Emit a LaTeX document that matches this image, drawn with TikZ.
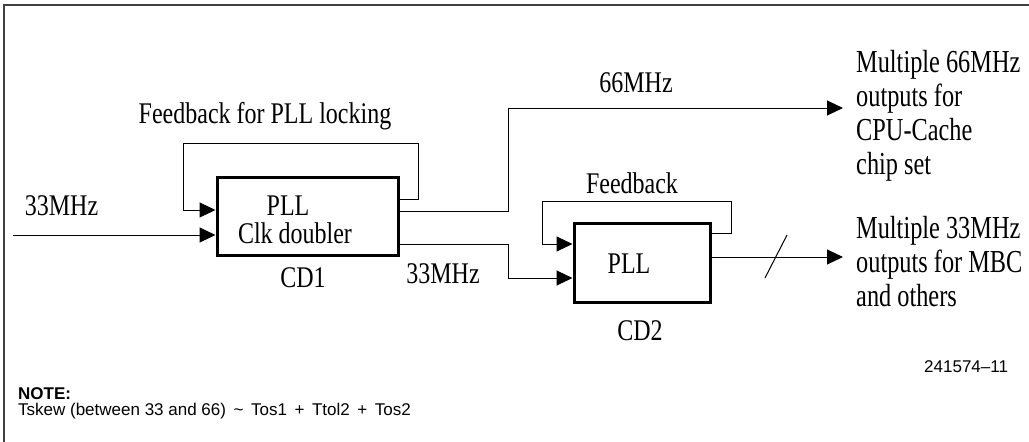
\documentclass[tikz,border=0pt]{standalone}
\usepackage{fontspec}
\setmainfont{Liberation Serif}
\newfontfamily\lblfont[FakeStretch=0.8]{Liberation Serif}
\newfontfamily\bigfont[FakeStretch=0.76]{Liberation Serif}
\newfontfamily\notefont{Liberation Sans}
\usetikzlibrary{arrows.meta}
\begin{document}
\begin{tikzpicture}[x=1pt,y=-1pt,
  block/.style={draw, line width=3pt, inner sep=0pt},
  wire/.style={line width=1pt},
  arr/.style={wire, -{Triangle[length=16pt,width=15pt]}},
  lbl/.style={font=\lblfont\fontsize{30}{34}\selectfont, inner sep=0pt},
  big/.style={font=\bigfont\fontsize{32}{34}\selectfont, inner sep=0pt, align=left},
  note/.style={font=\notefont\fontsize{17}{20}\selectfont, inner sep=0pt},
  frame/.style={line width=2pt, black!75}]
\useasboundingbox (0,0) rectangle (1029,442);
\draw[frame] (3.5,442) -- (3.5,5) -- (1029,5);

% blocks
\node[block, minimum width=181pt, minimum height=78pt] (cd1) at (307.5,216) {};
\node[block, minimum width=136pt, minimum height=79pt] (cd2) at (642,262.5) {};

% labels
\node[lbl, anchor=base] (pll1) at (288,215) {PLL};
\node[lbl, anchor=base] (clk) at (295,243) {Clk doubler};
\node[lbl, anchor=base] (cd1lbl) at (303,287) {CD1};
\node[lbl, anchor=base] (in33) at (61.5,215) {33MHz};
\node[lbl, anchor=base] (fb1lbl) at (265,123) {Feedback for PLL locking};
\node[lbl, anchor=base] (l66) at (636,92) {66MHz};
\node[lbl, anchor=base] (l33) at (443,283) {33MHz};
\node[lbl, anchor=base] (fb2lbl) at (632,193) {Feedback};
\node[lbl, anchor=base] (pll2) at (629,273) {PLL};
\node[lbl, anchor=base] (cd2lbl) at (640,340) {CD2};

\node[big, anchor=north west] (o66) at (856,50) {Multiple 66MHz\\outputs for\\CPU-Cache\\chip set};
\node[big, anchor=north west] (o33) at (856,216) {Multiple 33MHz\\outputs for MBC\\and others};

% connectors
\coordinate (inL) at (13,235);
\coordinate (out66) at (843,108);
\coordinate (out33) at (843,257);
\draw[arr] (inL) -- (inL -| cd1.west);
\draw[arr] (cd1.east |- 0,199) -| (418,143) -| (183,210) -- (cd1.west |- 0,210);
\draw[arr] (cd1.east |- 0,211) -| (508,108) -- (out66);
\draw[arr] (cd1.east |- 0,244) -| (508,278) -- (cd2.west |- 0,278);
\draw[arr] (cd2.east |- 0,233) -| (731,201) -| (542,244) -- (cd2.west |- 0,244);
\draw[arr] (cd2.east |- 0,257) -- (out33);
\draw[wire] (765,278) -- (787,235);

% note
\node[note, anchor=base west, font=\notefont\bfseries\fontsize{17}{20}\selectfont] (notehd) at (18,399) {NOTE:};
\node[note, anchor=base west] (notetx) at (18,415) {Tskew (between 33 and 66) \,\textasciitilde\, Tos1 \,+\, Ttol2 \,+\, Tos2};
\node[note, anchor=base west] (figno) at (924,372) {241574–11};
\end{tikzpicture}
\end{document}
